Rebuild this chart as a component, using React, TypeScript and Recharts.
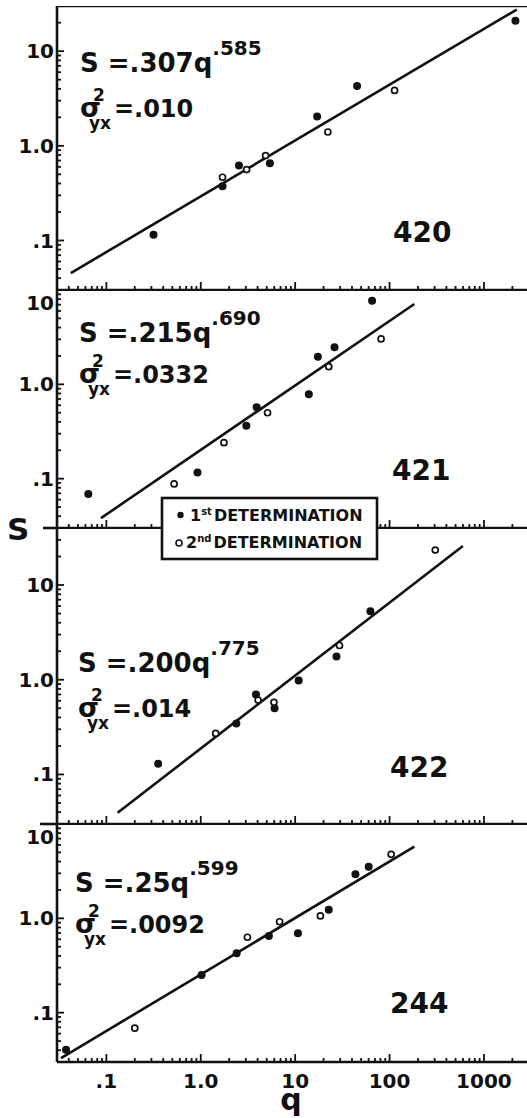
import React from 'react';
import { ScatterChart, Scatter, XAxis, YAxis, ReferenceLine } from 'recharts';

// q tick marks (log axis, minor + major)
const xTicks = [
  0.03, 0.04, 0.05, 0.06, 0.07, 0.08, 0.09,
  0.1, 0.2, 0.3, 0.4, 0.5, 0.6, 0.7, 0.8, 0.9,
  1, 2, 3, 4, 5, 6, 7, 8, 9,
  10, 20, 30, 40, 50, 60, 70, 80, 90,
  100, 200, 300, 400, 500, 600, 700, 800, 900,
  1000, 2000, 3000,
];
const xMajor = [0.1, 1, 10, 100, 1000];
const xMajorLabels = ['.1', '1.0', '10', '100', '1000'];

const yTicksBase = [
  0.03, 0.04, 0.05, 0.06, 0.07, 0.08, 0.09,
  0.1, 0.2, 0.3, 0.4, 0.5, 0.6, 0.7, 0.8, 0.9,
  1, 2, 3, 4, 5, 6, 7, 8, 9, 10,
];
const yTicks420 = [...yTicksBase, 20, 30];
const yTicks422 = [...yTicksBase, 20, 30, 40];
const yMajor = [0.1, 1, 10];
const yMajorLabels = ['.1', '1.0', '10'];

// panel 420
const first420 = [
  { q: 0.316, s: 0.115 }, { q: 1.7, s: 0.374 }, { q: 2.54, s: 0.619 },
  { q: 5.4, s: 0.656 }, { q: 17.1, s: 2.04 }, { q: 45.3, s: 4.28 }, { q: 2155, s: 20.9 },
];
const second420 = [
  { q: 1.7, s: 0.466 }, { q: 3.06, s: 0.561 }, { q: 4.86, s: 0.79 },
  { q: 22.2, s: 1.4 }, { q: 113, s: 3.85 },
];
const fit420 = [{ q: 0.042, s: 0.0453 }, { q: 2228, s: 27.5 }];

// panel 421
const first421 = [
  { q: 0.0644, s: 0.069 }, { q: 0.923, s: 0.116 }, { q: 3.04, s: 0.363 },
  { q: 3.91, s: 0.572 }, { q: 13.95, s: 0.785 }, { q: 17.4, s: 1.96 },
  { q: 26.1, s: 2.47 }, { q: 65.3, s: 7.7 },
];
const second421 = [
  { q: 0.522, s: 0.088 }, { q: 1.76, s: 0.241 }, { q: 5.1, s: 0.5 },
  { q: 22.7, s: 1.54 }, { q: 81.3, s: 3.03 },
];
const fit421 = [{ q: 0.0877, s: 0.0382 }, { q: 183, s: 7.1 }];

// panel 422
const first422 = [
  { q: 0.354, s: 0.13 }, { q: 2.38, s: 0.346 }, { q: 3.85, s: 0.7 },
  { q: 6.05, s: 0.5 }, { q: 10.9, s: 0.98 }, { q: 27.4, s: 1.76 }, { q: 62.7, s: 5.28 },
];
const second422 = [
  { q: 1.44, s: 0.271 }, { q: 4.05, s: 0.61 }, { q: 5.96, s: 0.578 },
  { q: 29.5, s: 2.3 }, { q: 305, s: 23.4 },
];
const fit422 = [{ q: 0.1316, s: 0.0395 }, { q: 598, s: 25.8 }];

// panel 244
const first244 = [
  { q: 0.0374, s: 0.0404 }, { q: 1.02, s: 0.251 }, { q: 2.4, s: 0.427 },
  { q: 5.27, s: 0.651 }, { q: 10.7, s: 0.695 }, { q: 22.7, s: 1.23 },
  { q: 43.5, s: 2.93 }, { q: 60.1, s: 3.53 },
];
const second244 = [
  { q: 0.2, s: 0.0685 }, { q: 3.12, s: 0.63 }, { q: 6.84, s: 0.92 },
  { q: 18.5, s: 1.06 }, { q: 104, s: 4.77 },
];
const fit244 = [{ q: 0.0331, s: 0.033 }, { q: 183, s: 5.75 }];

const FONT = '"DejaVu Sans", sans-serif';
const INK = '#111';

const FilledDot = (p: any) => <circle cx={p.cx} cy={p.cy} r={4} fill={INK} />;
const OpenDot = (p: any) => (
  <circle cx={p.cx} cy={p.cy} r={3} fill="#fff" stroke={INK} strokeWidth={1.7} />
);
const NoDot = () => <g />;

const XTick = ({ x, y, payload, showLabel }: any) => {
  const i = xMajor.indexOf(payload.value);
  const len = i >= 0 ? 8 : 4;
  return (
    <g>
      <line x1={x} y1={y} x2={x} y2={y - len} stroke={INK} strokeWidth={1.8} />
      {showLabel && i >= 0 && (
        <text x={x} y={y + 26} textAnchor="middle" fontFamily={FONT} fontWeight="bold" fontSize={20} fill={INK}>
          {xMajorLabels[i]}
        </text>
      )}
    </g>
  );
};

const YTick = ({ x, y, payload, top }: any) => {
  const i = yMajor.indexOf(payload.value);
  const len = i >= 0 ? 7 : 4;
  const atTop = payload.value === top;
  return (
    <g>
      <line x1={x} y1={y} x2={x + len} y2={y} stroke={INK} strokeWidth={1.8} />
      {i >= 0 && (
        <text x={x - 3} y={y + (atTop ? 20 : 7)} textAnchor="end" fontFamily={FONT} fontWeight="bold" fontSize={20} fill={INK}>
          {yMajorLabels[i]}
        </text>
      )}
    </g>
  );
};

const Panel = ({ top, height, yTop, yTicks, first, second, fit, showX, border }: any) => {
  const axisH = showX ? 40 : 1;
  return (
    <div style={{ position: 'absolute', left: 0, top }}>
      <ScatterChart width={529} height={height + axisH} margin={{ top: 0, right: 0, bottom: 0, left: 0 }}>
        <XAxis
          dataKey="q"
          type="number"
          scale="log"
          domain={[0.03, 3000]}
          ticks={xTicks}
          interval={0}
          allowDataOverflow
          height={axisH}
          tickSize={0}
          tickMargin={0}
          tickLine={false}
          axisLine={{ stroke: INK, strokeWidth: 2.6 }}
          tick={<XTick showLabel={showX} />}
        />
        <YAxis
          dataKey="s"
          type="number"
          scale="log"
          domain={[0.03, yTop]}
          ticks={yTicks}
          interval={0}
          allowDataOverflow
          width={57}
          tickSize={0}
          tickMargin={0}
          tickLine={false}
          axisLine={{ stroke: INK, strokeWidth: 2.6 }}
          tick={<YTick top={yTop} />}
        />
        {border && <ReferenceLine y={yTop} stroke={INK} strokeWidth={2.6} />}
        <Scatter data={fit} line={{ stroke: INK, strokeWidth: 2.6 }} shape={NoDot} isAnimationActive={false} />
        <Scatter data={first} shape={FilledDot} isAnimationActive={false} />
        <Scatter data={second} shape={OpenDot} isAnimationActive={false} />
      </ScatterChart>
    </div>
  );
};

const Equation = ({ x, b1, b2, coef, expo, sigma }: any) => (
  <g fontFamily={FONT} fontWeight="bold" fill={INK}>
    <text x={x} y={b1} fontSize={26}>
      {`S =${coef}q`}
      <tspan fontSize={20} dy={-17}>{expo}</tspan>
    </text>
    <text x={x} y={b2} fontSize={27}>
      σ
      <tspan fontSize={17} dx={-8} dy={-16}>2</tspan>
      <tspan fontSize={17} dx={-16} dy={28}>yx</tspan>
      <tspan fontSize={24} dx={3} dy={-12}>{`=${sigma}`}</tspan>
    </text>
  </g>
);

const App = () => (
  <div style={{ position: 'absolute', left: 0, top: 0, width: 527, height: 1118, overflow: 'hidden', background: '#fff' }}>
    <Panel top={6} height={284} yTop={30} yTicks={yTicks420} first={first420} second={second420} fit={fit420} border />
    <Panel top={290} height={238} yTop={10} yTicks={yTicksBase} first={first421} second={second421} fit={fit421} />
    <Panel top={528} height={296} yTop={40} yTicks={yTicks422} first={first422} second={second422} fit={fit422} />
    <Panel top={824} height={238} yTop={10} yTicks={yTicksBase} first={first244} second={second244} fit={fit244} showX />
    <svg width={527} height={1118} style={{ position: 'absolute', left: 0, top: 0, pointerEvents: 'none' }}>
      <line x1={43} y1={528} x2={57} y2={528} stroke={INK} strokeWidth={2.6} />
      <line x1={40} y1={824} x2={57} y2={824} stroke={INK} strokeWidth={2.6} />
      <Equation x={80} b1={72} b2={117} coef=".307" expo=".585" sigma=".010" />
      <Equation x={79} b1={342} b2={383} coef=".215" expo=".690" sigma=".0332" />
      <Equation x={78} b1={672} b2={717} coef=".200" expo=".775" sigma=".014" />
      <Equation x={75} b1={892} b2={933} coef=".25" expo=".599" sigma=".0092" />
      <g fontFamily={FONT} fontWeight="bold" fill={INK} fontSize={28}>
        <text x={393} y={242}>420</text>
        <text x={392} y={480}>421</text>
        <text x={390} y={777}>422</text>
        <text x={390} y={1013}>244</text>
      </g>
      <text x={7} y={540} fontFamily={FONT} fontWeight="bold" fontSize={31} fill={INK}>S</text>
      <text x={291} y={1110} textAnchor="middle" fontFamily={FONT} fontWeight="bold" fontSize={30} fill={INK}>q</text>
      <rect x={162} y={498} width={215} height={61} fill="#fff" stroke={INK} strokeWidth={2.6} />
      <circle cx={180.5} cy={515} r={3.2} fill={INK} />
      <circle cx={179} cy={543} r={3} fill="#fff" stroke={INK} strokeWidth={1.6} />
      <g fontFamily={FONT} fontWeight="bold" fill={INK}>
        <text x={190} y={521} fontSize={16}>
          1<tspan fontSize={10} dy={-6}>st</tspan>
          <tspan dy={6} dx={2}>DETERMINATION</tspan>
        </text>
        <text x={186} y={548} fontSize={16}>
          2<tspan fontSize={10} dy={-6}>nd</tspan>
          <tspan dy={6} dx={2}>DETERMINATION</tspan>
        </text>
      </g>
    </svg>
  </div>
);

export default App;
